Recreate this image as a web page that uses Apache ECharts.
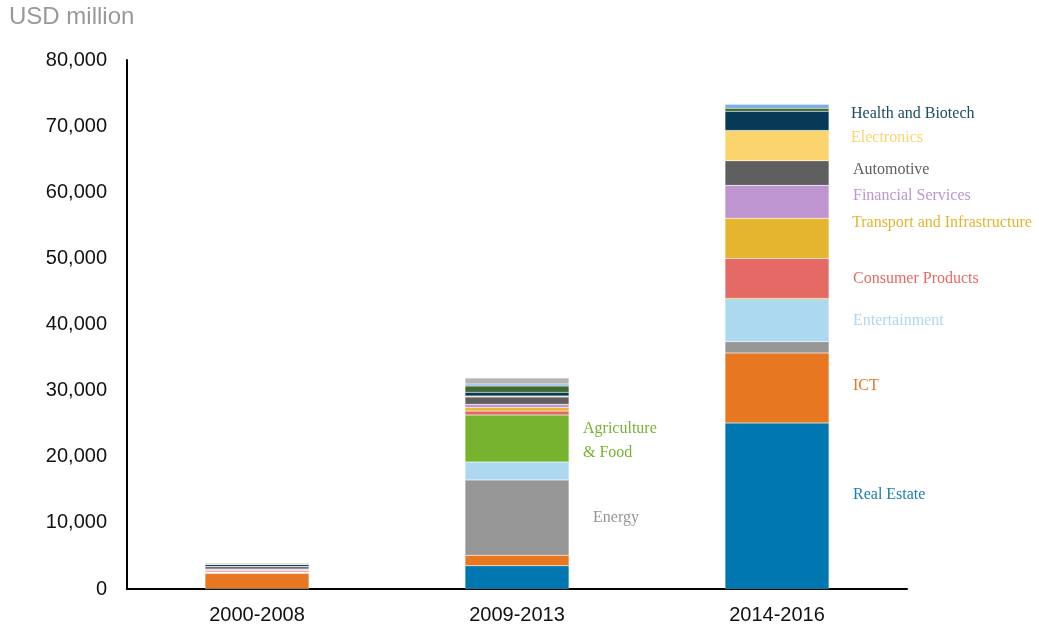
<!DOCTYPE html>
<html>
<head>
<meta charset="utf-8">
<script src="https://cdn.jsdelivr.net/npm/echarts@6/dist/echarts.min.js"></script>
<style>
  html, body { margin: 0; padding: 0; background: #fff; }
  #chart { width: 1039px; height: 633px; }
</style>
</head>
<body>
<div id="chart"></div>
<script>
var periods = ['2000-2008', '2009-2013', '2014-2016'];

// values in USD million, stacked bottom to top
var realEstate     = [50, 3500, 25100];
var ict            = [2300, 1600, 10600];
var energy         = [100, 11400, 1700];
var entertainment  = [100, 2700, 6350];
var agriculture    = [30, 7100, 200];
var consumer       = [200, 600, 6050];
var transport      = [80, 550, 6050];
var financial      = [150, 500, 5000];
var automotive     = [350, 1100, 3700];
var electronics    = [30, 150, 4600];
var health         = [300, 550, 2900];
var otherGreen     = [30, 950, 450];
var otherBlue      = [50, 300, 600];
var otherGrey      = [150, 900, 100];

var yTicks = [0, 10000, 20000, 30000, 40000, 50000, 60000, 70000, 80000];

var serif = "'Liberation Serif', 'DejaVu Serif', serif";
var sans = "'Liberation Sans', Arial, sans-serif";

// one stacked series; lab = label shown beside one of its bars
function seg(name, values, color, lab) {
	var data = values.map(function (v, i) {
		if (lab && lab.idx === i) {
			return {
				value: v,
				label: {
					show: true,
					position: 'right',
					distance: lab.dist,
					offset: [0, lab.dy],
					formatter: lab.text,
					color: lab.color || color,
					fontFamily: serif,
					fontSize: 16,
					lineHeight: 24
				}
			};
		}
		return v;
	});
	return {
		name: name,
		type: 'bar',
		stack: 'total',
		barWidth: '40%',
		itemStyle: { color: color, borderColor: 'rgba(255,255,255,0.35)', borderWidth: 0.5 },
		label: { show: false },
		emphasis: { disabled: true },
		data: data
	};
}

var chart = echarts.init(document.getElementById('chart'));
chart.setOption({
	animation: false,
	title: {
		text: 'USD million',
		left: 4,
		top: 0,
		textStyle: { color: '#999999', fontSize: 24, fontWeight: 'normal', fontFamily: sans }
	},
	grid: { left: 127, right: 132, top: 60, bottom: 44, containLabel: false },
	xAxis: {
		type: 'category',
		data: periods,
		axisLine: { lineStyle: { color: '#000', width: 2 } },
		axisTick: { show: false },
		axisLabel: { color: '#111', fontSize: 20, fontFamily: sans, margin: 16 }
	},
	yAxis: {
		type: 'value',
		min: yTicks[0],
		max: yTicks[yTicks.length - 1],
		interval: yTicks[1] - yTicks[0],
		axisLine: { show: true, lineStyle: { color: '#000', width: 2 } },
		axisTick: { show: false },
		splitLine: { show: false },
		axisLabel: {
			color: '#111', fontSize: 20, fontFamily: sans, margin: 20,
			formatter: function (v) { return v.toLocaleString('en-US'); }
		}
	},
	series: [
		seg('Real Estate', realEstate, '#0077b0', { idx: 2, text: 'Real Estate', dist: 24, dy: -11, color: '#1b7db4' }),
		seg('ICT', ict, '#e87722', { idx: 2, text: 'ICT', dist: 24, dy: -2 }),
		seg('Energy', energy, '#969696', { idx: 1, text: 'Energy', dist: 24, dy: 0 }),
		seg('Entertainment', entertainment, '#acd8f0', { idx: 2, text: 'Entertainment', dist: 24, dy: 0 }),
		seg('Agriculture & Food', agriculture, '#78b32f', { idx: 1, text: 'Agriculture\n& Food', dist: 14, dy: 2 }),
		seg('Consumer Products', consumer, '#e56a65', { idx: 2, text: 'Consumer Products', dist: 24, dy: 0 }),
		seg('Transport and Infrastructure', transport, '#e5b530', { idx: 2, text: 'Transport and Infrastructure', dist: 23, dy: -16 }),
		seg('Financial Services', financial, '#bf95d0', { idx: 2, text: 'Financial Services', dist: 24, dy: -6 }),
		seg('Automotive', automotive, '#5f5f5f', { idx: 2, text: 'Automotive', dist: 24, dy: -3 }),
		seg('Electronics', electronics, '#fbd46e', { idx: 2, text: 'Electronics', dist: 22, dy: -8 }),
		seg('Health and Biotech', health, '#063a56', { idx: 2, text: 'Health and Biotech', dist: 22, dy: -7, color: '#1c4a66' }),
		seg('Other (green)', otherGreen, '#3f6a2f'),
		seg('Other (blue)', otherBlue, '#78aee0'),
		seg('Other', otherGrey, '#b4b4b4')
	]
});
</script>
</body>
</html>
